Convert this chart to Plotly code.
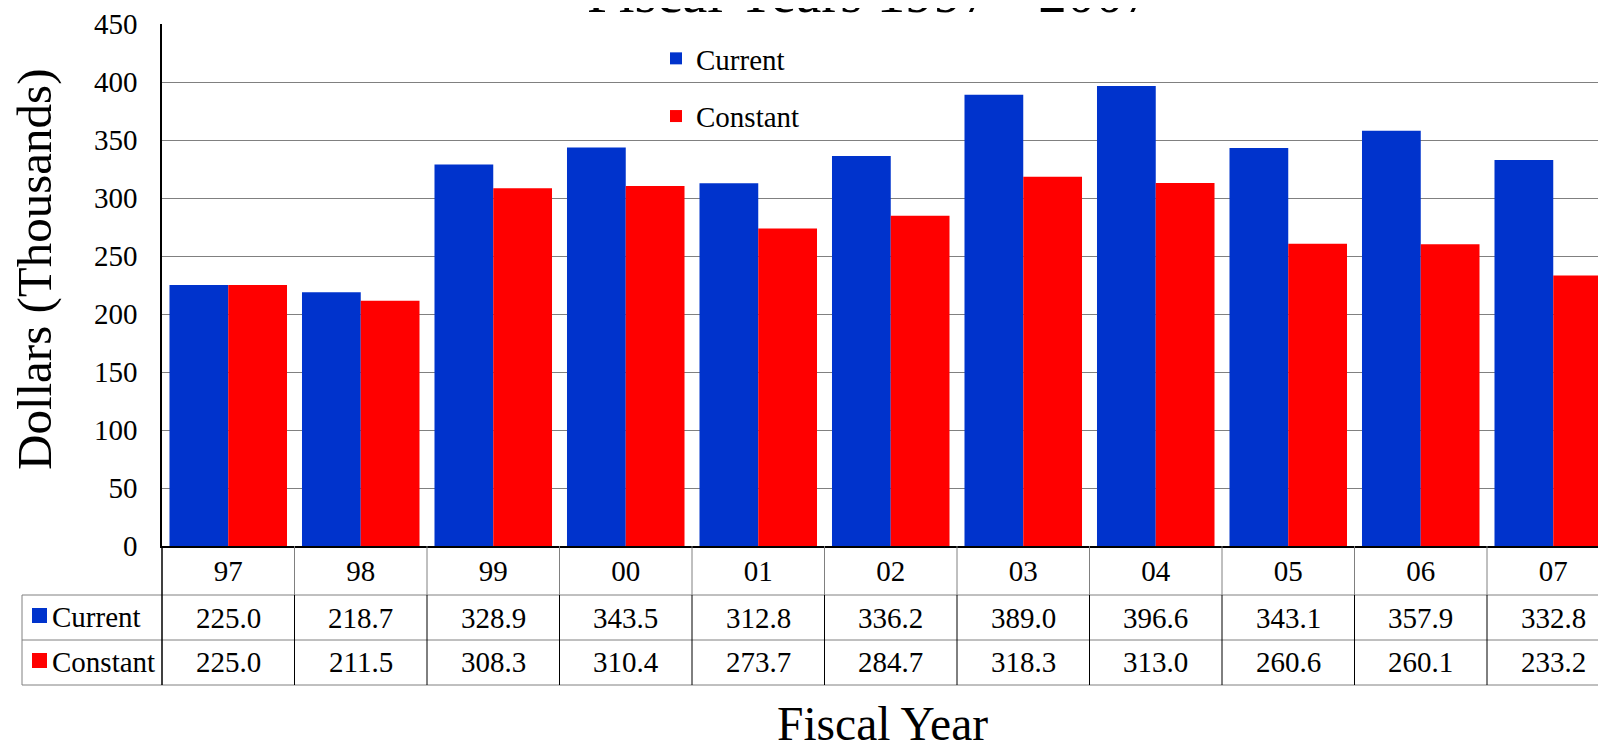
import plotly.graph_objects as go

years = ["97", "98", "99", "00", "01", "02", "03", "04", "05", "06", "07"]
current = [225.0, 218.7, 328.9, 343.5, 312.8, 336.2, 389.0, 396.6, 343.1, 357.9, 332.8]
constant = [225.0, 211.5, 308.3, 310.4, 273.7, 284.7, 318.3, 313.0, 260.6, 260.1, 233.2]
series_names = ["Current", "Constant"]
series_colors = ["#0033CC", "#FF0000"]
y_ticks = list(range(0, 451, 50))

OFF = 8                      # page body margin
W, H = 1606, 740
# plot area in page pixels
PL, PT, PR, PB = 162, 24, 1606, 546
CAT = 132.5
FONT = "Liberation Serif"
FS = 29

def px_x(X):
    return (X - PL) / (PR - PL)

def px_y(Y):
    return (PB - Y) / (PB - PT)

fig = go.Figure()
for name, vals, col, grp in zip(series_names, [current, constant], series_colors, ["a", "b"]):
    fig.add_trace(go.Bar(x=years, y=vals, name=name, marker_color=col,
                         marker_line_width=0, legendgroup=grp))

shapes = []
annotations = []
gray = "#808080"
r_top, r1, r2, r3 = 546, 595, 640, 685
for Y in [r1, r2, r3]:
    shapes.append(dict(type="line", xref="paper", yref="paper", x0=px_x(22), x1=1.02,
                       y0=px_y(Y), y1=px_y(Y), line=dict(color=gray, width=1)))
shapes.append(dict(type="line", xref="paper", yref="paper", x0=px_x(22), x1=px_x(22),
                   y0=px_y(r1), y1=px_y(r3), line=dict(color=gray, width=1)))
shapes.append(dict(type="line", xref="paper", yref="paper", x0=0, x1=0,
                   y0=px_y(r_top), y1=px_y(r3), line=dict(color="black", width=1.5)))
for i in range(len(years) - 1):
    shapes.append(dict(type="line", xref="x", yref="paper", x0=i + 0.5, x1=i + 0.5,
                       y0=px_y(r_top), y1=px_y(r1), line=dict(color=gray, width=1)))
    shapes.append(dict(type="line", xref="x", yref="paper", x0=i + 0.5, x1=i + 0.5,
                       y0=px_y(r1), y1=px_y(r3), line=dict(color="black", width=1)))
for i, yr in enumerate(years):
    annotations.append(dict(x=i, xref="x", y=px_y(617.5), yref="paper", text=f"{current[i]:.1f}",
                            showarrow=False, xanchor="center", yanchor="middle",
                            font=dict(family=FONT, size=FS, color="black")))
    annotations.append(dict(x=i, xref="x", y=px_y(662), yref="paper", text=f"{constant[i]:.1f}",
                            showarrow=False, xanchor="center", yanchor="middle",
                            font=dict(family=FONT, size=FS, color="black")))
for name, col, Yc in zip(series_names, series_colors, [615.5, 660.5]):
    shapes.append(dict(type="rect", xref="paper", yref="paper", x0=px_x(32), x1=px_x(47),
                       y0=px_y(Yc - 7.5), y1=px_y(Yc + 7.5), line=dict(width=0), fillcolor=col))
    annotations.append(dict(x=px_x(50), xref="paper", y=px_y(Yc + 1.5), yref="paper", text=name,
                            showarrow=False, xanchor="left", yanchor="middle",
                            font=dict(family=FONT, size=FS, color="black")))
annotations.append(dict(x=px_x(869), xref="paper", y=px_y(26), yref="paper",
                        text="Fiscal Years 1997 - 2007", showarrow=False,
                        xanchor="center", yanchor="bottom",
                        font=dict(family=FONT, size=57, color="black")))
annotations.append(dict(x=px_x(882), xref="paper", y=px_y(696), yref="paper",
                        text="Fiscal Year", showarrow=False,
                        xanchor="center", yanchor="top",
                        font=dict(family=FONT, size=47.5, color="black")))
annotations.append(dict(x=px_x(34), xref="paper", y=px_y(270), yref="paper",
                        text="Dollars (Thousands)", showarrow=False, textangle=-90,
                        xanchor="center", yanchor="middle",
                        font=dict(family=FONT, size=49, color="black")))

fig.update_layout(
    width=W, height=H,
    margin=dict(l=PL - OFF, r=W - (PR - OFF), t=PT - OFF, b=H - (PB - OFF), pad=0),
    paper_bgcolor="white", plot_bgcolor="white",
    barmode="group", bargap=0.113, bargroupgap=0,
    font=dict(family=FONT, size=FS, color="black"),
    showlegend=True,
    legend=dict(x=px_x(656), y=px_y(33), xanchor="left", yanchor="top",
                traceorder="grouped", tracegroupgap=17, bgcolor="rgba(0,0,0,0)",
                font=dict(family=FONT, size=FS, color="black")),
    shapes=shapes, annotations=annotations,
)
fig.update_xaxes(type="category", range=[-0.5, -0.5 + (PR - PL) / CAT], automargin=False,
                 showgrid=False, showline=True, linecolor="black", linewidth=1.5,
                 ticks="", ticklabelstandoff=-2, tickfont=dict(family=FONT, size=FS, color="black"),
                 zeroline=False)
fig.update_yaxes(range=[0, 450], tickvals=y_ticks, showgrid=True, gridcolor=gray, gridwidth=1,
                 automargin=False,
                 showline=True, linecolor="black", linewidth=1.5, zeroline=False,
                 ticks="", ticklabelstandoff=17, tickfont=dict(family=FONT, size=FS, color="black"))

fig.write_html("out.html")
